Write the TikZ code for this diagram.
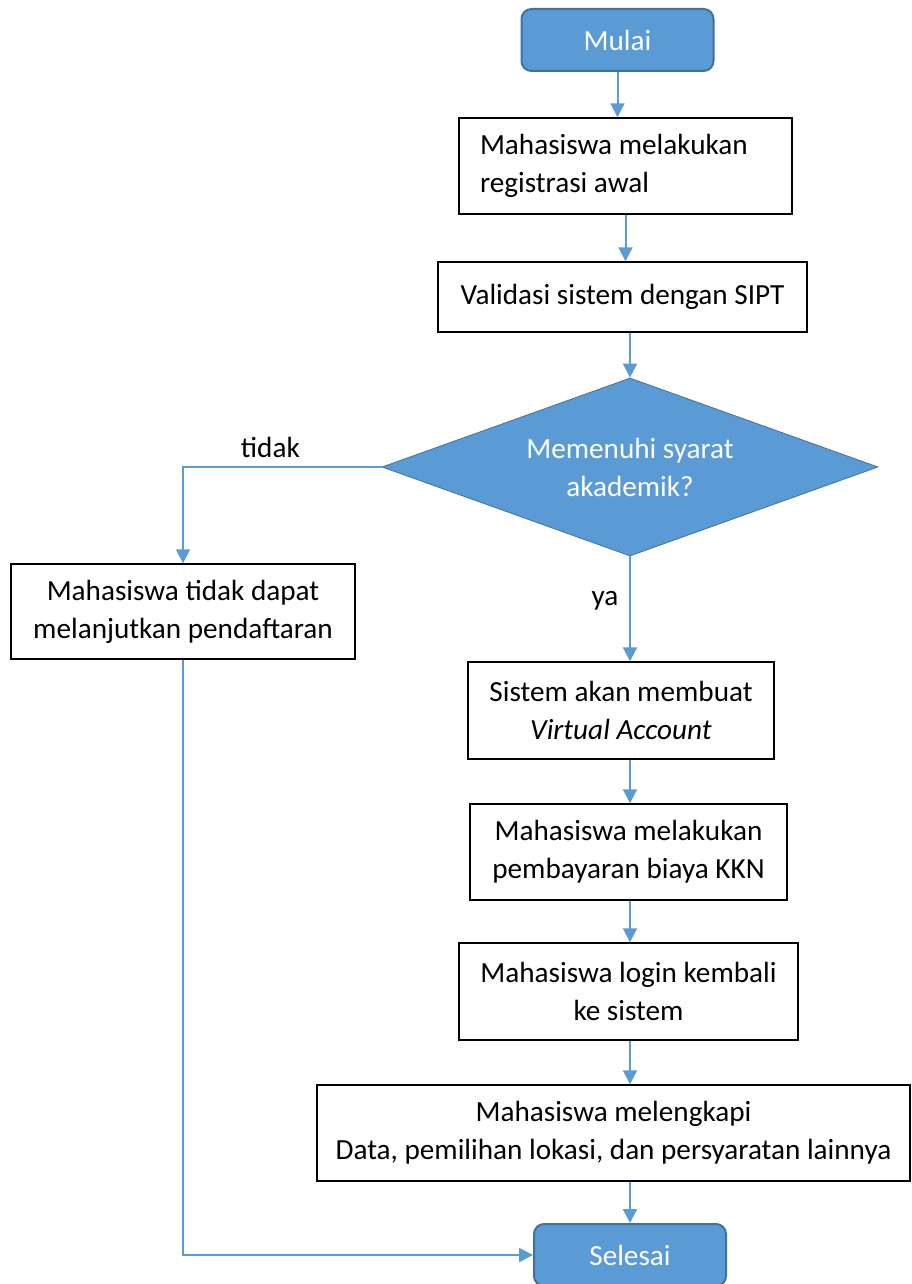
\documentclass[tikz,border=0pt]{standalone}
\usepackage{fontspec}
\setmainfont{Carlito}
\usetikzlibrary{shapes.geometric,arrows.meta}
\definecolor{flowblue}{HTML}{5B9BD5}
\definecolor{flowedge}{HTML}{41719C}
\begin{document}
\begin{tikzpicture}[x=0.5pt,y=-0.5pt,
    every node/.style={font=\fontsize{14.6}{19}\selectfont},
    proses/.style={draw, line width=0.7pt, align=center, inner sep=0pt},
    terminal/.style={draw=flowedge, fill=flowblue, text=white, rounded corners=5pt, line width=1pt, minimum width=96pt, minimum height=31pt},
    keputusan/.style={diamond, aspect=2.79, draw=flowedge, fill=flowblue, text=white, align=center, inner sep=0pt, minimum width=248pt, minimum height=89pt},
    alur/.style={draw=flowblue, line width=1pt, -{Triangle[length=7pt,width=7pt]}}]
                \clip (0,0) rectangle (911,1284);
                \node[terminal] (mulai) at (617.5,40) {Mulai};
                \node[proses, align=flush left, text width=145.5pt, inner xsep=10.5pt, minimum height=48pt] (registrasi) at (625.5,166) {Mahasiswa melakukan\\registrasi awal};
                \node[proses, minimum width=184.5pt, minimum height=35pt] (validasi) at (622.5,297) {Validasi sistem dengan SIPT};
                \node[keputusan] (syarat) at (630,467) {Memenuhi syarat\\akademik?};
                \node[proses, minimum width=172pt, minimum height=47.5pt] (gagal) at (183,611.5) {Mahasiswa tidak dapat\\melanjutkan pendaftaran};
                \node[proses, minimum width=153pt, minimum height=48.5pt] (va) at (621,710.5) {Sistem akan membuat\\\textit{Virtual Account}};
                \node[proses, minimum width=158.5pt, minimum height=48pt] (bayar) at (628.5,852) {Mahasiswa melakukan\\pembayaran biaya KKN};
                \node[proses, minimum width=169.5pt, minimum height=48.5pt] (login) at (628.5,991.5) {Mahasiswa login kembali\\ke sistem};
                \node[proses, minimum width=296.5pt, minimum height=48pt] (lengkapi) at (613.5,1133) {Mahasiswa melengkapi\\Data, pemilihan lokasi, dan persyaratan lainnya};
                \node[terminal] (selesai) at (630,1255) {Selesai};
                
                \draw[alur] (mulai.south) -- (mulai.south |- registrasi.north);
                \draw[alur] (registrasi.south) -- (registrasi.south |- validasi.north);
                \draw[alur] (syarat.north |- validasi.south) -- (syarat.north);
                
                \draw[alur] (syarat.west) -| node[pos=0.28, above=1pt] {tidak} (gagal.north);
                \draw[alur] (syarat.south) -- node[pos=0.42, left=2pt] {ya} (va.north -| syarat.south);
                
                \draw[alur] (syarat.south |- va.south) -- (syarat.south |- bayar.north);
                \draw[alur] (syarat.south |- bayar.south) -- (syarat.south |- login.north);
                \draw[alur] (syarat.south |- login.south) -- (syarat.south |- lengkapi.north);
                \draw[alur] (syarat.south |- lengkapi.south) -- (syarat.south |- selesai.north);
                
                \draw[alur] (gagal.south) |- (selesai.west);
            \end{tikzpicture}
\end{document}
